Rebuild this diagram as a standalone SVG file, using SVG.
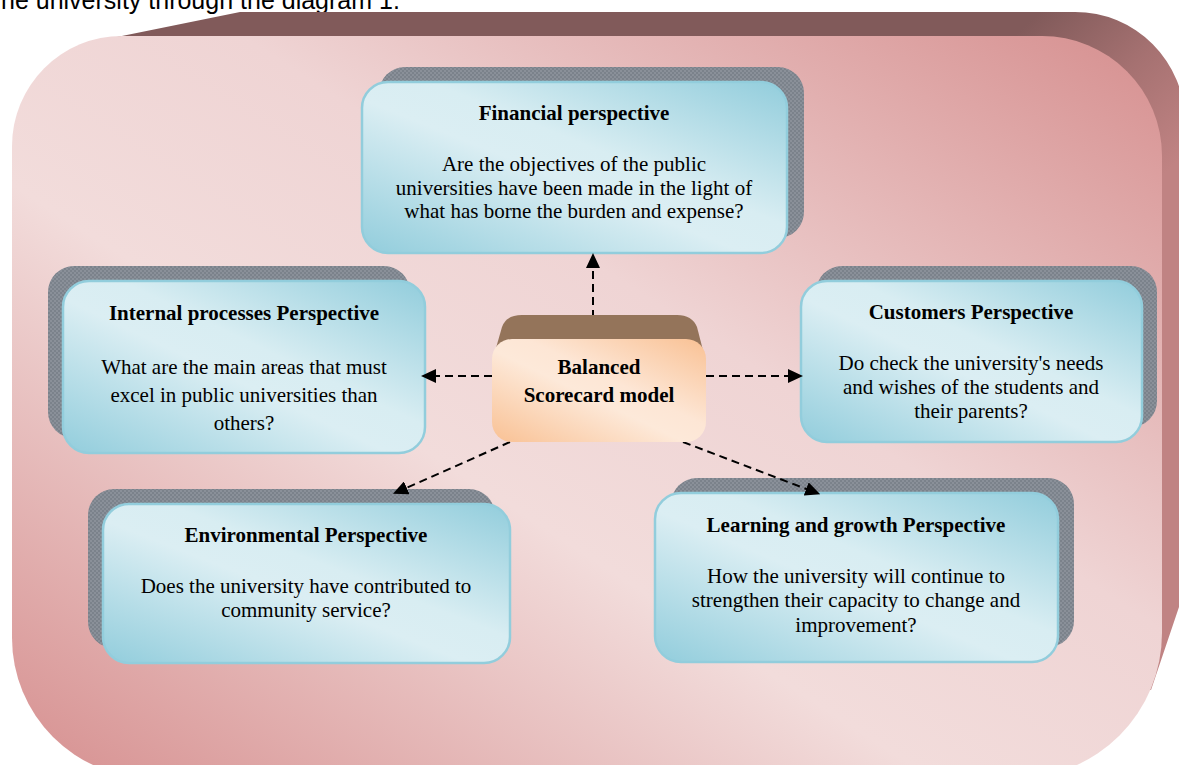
<svg xmlns="http://www.w3.org/2000/svg" width="1179" height="765" viewBox="0 0 1179 765">
  <defs>
    <linearGradient id="pinkGrad" x1="0" y1="1" x2="1" y2="0">
      <stop offset="0" stop-color="#d68f8f"/>
      <stop offset="0.4" stop-color="#f2dcdb"/>
      <stop offset="0.6" stop-color="#efd4d4"/>
      <stop offset="1" stop-color="#d68f8f"/>
    </linearGradient>
    <linearGradient id="extrGrad" gradientUnits="userSpaceOnUse" x1="1040" y1="12" x2="1179" y2="160">
      <stop offset="0" stop-color="#815a5a"/>
      <stop offset="0.5" stop-color="#a57171"/>
      <stop offset="1" stop-color="#c08383"/>
    </linearGradient>
    <linearGradient id="blueGrad" x1="0" y1="1" x2="1" y2="0">
      <stop offset="0" stop-color="#92cddc"/>
      <stop offset="0.45" stop-color="#dbeef3"/>
      <stop offset="0.58" stop-color="#d8edf2"/>
      <stop offset="1" stop-color="#92cddc"/>
    </linearGradient>
    <linearGradient id="peachGrad" x1="0" y1="1" x2="1" y2="0">
      <stop offset="0" stop-color="#f9c194"/>
      <stop offset="0.45" stop-color="#fde9d9"/>
      <stop offset="0.58" stop-color="#fde6d5"/>
      <stop offset="1" stop-color="#f9c194"/>
    </linearGradient>
    <pattern id="chk" width="4" height="4" patternUnits="userSpaceOnUse">
      <rect width="4" height="4" fill="#8a9099"/>
      <rect width="2" height="2" fill="#7b828b"/>
      <rect x="2" y="2" width="2" height="2" fill="#7b828b"/>
    </pattern>
    <marker id="arr" markerUnits="userSpaceOnUse" markerWidth="15" markerHeight="14" refX="3" refY="7" orient="auto">
      <path d="M0,0 L15,7 L0,14 Z" fill="#000"/>
    </marker>
    <style>
      .shadow { fill: url(#chk); }
      .box { fill: url(#blueGrad); stroke: #92cddc; stroke-width: 2.5; }
      .t { font-family: "Liberation Serif", "Times New Roman", serif; font-size: 21px; text-anchor: middle; fill: #000; }
      .b { font-weight: bold; }
      .conn { stroke: #000; stroke-width: 2; stroke-dasharray: 8 5; fill: none; marker-end: url(#arr); }
    </style>
  </defs>

  <text x="1" y="9" font-family="Liberation Sans, Arial, sans-serif" font-size="25" fill="#000">he university through the diagram 1.</text>

  <g id="frame">
    <path d="M112,38 L240,12 L1075,12 A110,110 0 0 1 1185,122 L1185,590 L1179,607 L1151,690 L1100,690 L1100,60 L112,60 Z" fill="url(#extrGrad)"/>
    <path d="M122,36 L1042,36 A120,120 0 0 1 1162,156 L1162,633 A145,145 0 0 1 1017,778 L152,778 A140,140 0 0 1 12,638 L12,146 A110,110 0 0 1 122,36 Z" fill="url(#pinkGrad)"/>
  </g>

  <g id="financial">
    <rect class="shadow" x="379" y="67" width="425" height="171" rx="26"/>
    <rect class="box" x="362" y="82" width="425" height="171" rx="26"/>
    <text class="t b" x="574" y="120">Financial perspective</text>
    <text class="t" x="574" y="171">Are the objectives of the public</text>
    <text class="t" x="574" y="194.5">universities have been made in the light of</text>
    <text class="t" x="574" y="218">what has borne the burden and expense?</text>
  </g>

  <g id="internal">
    <rect class="shadow" x="48" y="266" width="362" height="172" rx="26"/>
    <rect class="box" x="63" y="281" width="362" height="172" rx="26"/>
    <text class="t b" x="244" y="320">Internal processes Perspective</text>
    <text class="t" x="244" y="374">What are the main areas that must</text>
    <text class="t" x="244" y="402">excel in public universities than</text>
    <text class="t" x="244" y="430">others?</text>
  </g>

  <g id="customers">
    <rect class="shadow" x="816" y="266" width="341" height="161" rx="26"/>
    <rect class="box" x="801" y="281" width="341" height="161" rx="26"/>
    <text class="t b" x="971" y="319">Customers Perspective</text>
    <text class="t" x="971" y="370">Do check the university's needs</text>
    <text class="t" x="971" y="394">and wishes of the students and</text>
    <text class="t" x="971" y="418">their parents?</text>
  </g>

  <g id="environmental">
    <rect class="shadow" x="88" y="489" width="407" height="159" rx="26"/>
    <rect class="box" x="103" y="504" width="407" height="159" rx="26"/>
    <text class="t b" x="306" y="542">Environmental Perspective</text>
    <text class="t" x="306" y="593">Does the university have contributed to</text>
    <text class="t" x="306" y="617">community service?</text>
  </g>

  <g id="learning">
    <rect class="shadow" x="671" y="478" width="403" height="169" rx="26"/>
    <rect class="box" x="655" y="493" width="403" height="169" rx="26"/>
    <text class="t b" x="856" y="532">Learning and growth Perspective</text>
    <text class="t" x="856" y="583">How the university will continue to</text>
    <text class="t" x="856" y="607">strengthen their capacity to change and</text>
    <text class="t" x="856" y="632">improvement?</text>
  </g>

  <g id="connectors">
    <line class="conn" x1="593" y1="318" x2="593" y2="265"/>
    <line class="conn" x1="492" y1="376" x2="433" y2="376"/>
    <line class="conn" x1="706" y1="376" x2="791" y2="376"/>
    <line class="conn" x1="510" y1="442" x2="404" y2="489"/>
    <line class="conn" x1="683" y1="442" x2="809" y2="490"/>
  </g>

  <g id="center">
    <path d="M492,362 L502,327 Q506,315 522,315 L677,315 Q692,315 697,327 L706,362 Z" fill="#94745a"/>
    <rect x="492" y="339" width="214" height="103" rx="20" fill="url(#peachGrad)"/>
    <text class="t b" x="599" y="374">Balanced</text>
    <text class="t b" x="599" y="402">Scorecard model</text>
  </g>
</svg>
